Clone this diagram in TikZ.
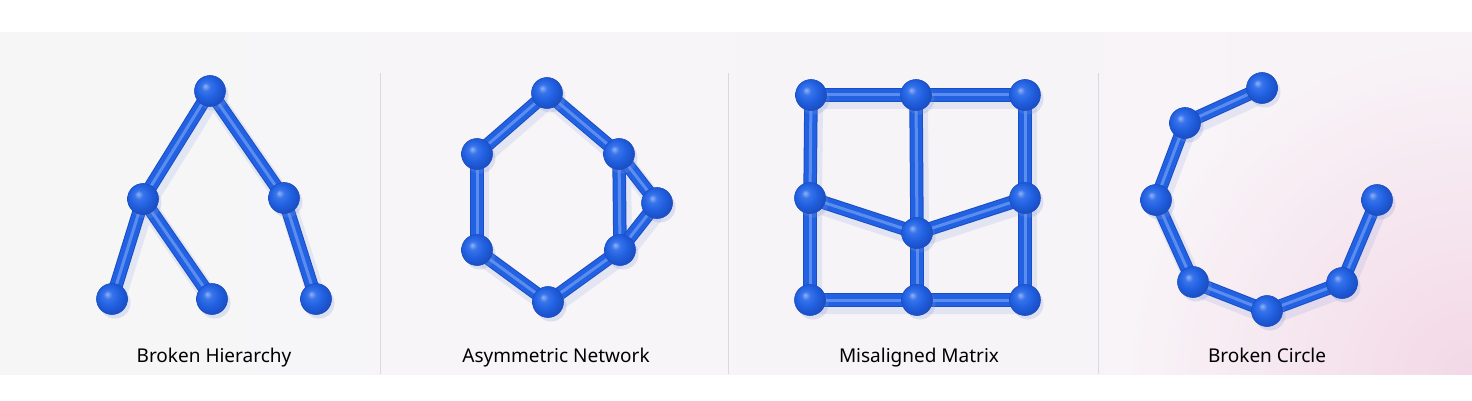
\documentclass[tikz,border=0pt]{standalone}
\usepackage{xcolor}
\usepackage{fontspec}
\setmainfont{Noto Sans}
\usepackage{tikz}
\usetikzlibrary{calc,shadows}
\definecolor{tubeblue}{HTML}{2262E2}
\definecolor{tubedark}{HTML}{1A4EC4}
\definecolor{tubelight}{HTML}{6E9CF3}
\definecolor{glossblue}{HTML}{8DB2F7}
\definecolor{midblue}{HTML}{3873EA}
\definecolor{shadeblue}{HTML}{7F95D8}
\definecolor{bgleft}{HTML}{F6F6F7}
\definecolor{bgright}{HTML}{F8F3F7}
\definecolor{glowpink}{HTML}{F3D8E6}
\definecolor{divgray}{HTML}{D9D9DE}
\pgfdeclareradialshading{glossy}{\pgfpoint{-8bp}{8bp}}{color(0bp)=(glossblue); color(7bp)=(midblue); color(16bp)=(tubeblue); color(28bp)=(tubedark); color(50bp)=(tubedark)}
\pgfdeclarelayer{back}
\pgfdeclarelayer{bars}
\pgfsetlayers{back,bars,main}
\tikzstyle{ball} = [circle, draw=tubedark, line width=0.6pt, shading=glossy, minimum size=31pt, inner sep=0pt, drop shadow={shadow xshift=3pt, shadow yshift=-4pt, opacity=0.22, fill=shadeblue}]
\tikzstyle{bar} = [tubeblue, line width=11.5pt, line cap=round, preaction={draw=tubedark, line width=13.5pt}, postaction={draw=tubelight, line width=3pt, opacity=0.75}]
\tikzstyle{barshade} = [shadeblue, line width=18pt, line cap=round, opacity=0.16]
\tikzstyle{caption} = [anchor=base, font=\fontsize{19}{22}\selectfont, text=black]
\tikzstyle{divider} = [divgray, line width=1pt]
\newcommand\edgelist{ha/hb,ha/hc,hb/hd,hb/he,hc/hf,
  na/nb,nb/nc,nc/nd,nd/ne,ne/nf,nf/na,nf/ng,ng/ne,
  m11/m12,m12/m13,m11/m21,m21/m31,m13/m23,m23/m33,m31/m32,m32/m33,m12/m22,m22/m32,m21/m22,m22/m23,
  c1/c2,c2/c3,c3/c4,c4/c5,c5/c6,c6/c7}

\begin{document}
\begin{tikzpicture}[x=1pt,y=-1pt]
\useasboundingbox (0,0) rectangle (1472,401);
\begin{pgfonlayer}{back}
\fill[left color=bgleft, right color=bgright] (0,33) rectangle (1472,374);
\begin{scope}
\clip (0,33) rectangle (1472,374);
\shade[inner color=glowpink, outer color=bgright] (1472,380) circle (340);
\end{scope}
\draw[divider] (380,73) -- (380,374);
\draw[divider] (728,73) -- (728,374);
\draw[divider] (1098,73) -- (1098,374);
\end{pgfonlayer}

\node [ball] (ha) at (210,91) {};
\node [ball] (hb) at (143,199) {};
\node [ball] (hc) at (284,198) {};
\node [ball] (hd) at (112,299) {};
\node [ball] (he) at (212,299) {};
\node [ball] (hf) at (316,299) {};

\node [ball] (na) at (547,93) {};
\node [ball] (nb) at (477,154) {};
\node [ball] (nc) at (477,250) {};
\node [ball] (nd) at (548,302) {};
\node [ball] (ne) at (620,250) {};
\node [ball] (nf) at (619,154) {};
\node [ball] (ng) at (657,203) {};

\node [ball] (m11) at (811,95) {};
\node [ball] (m12) at (916,95) {};
\node [ball] (m13) at (1025,95) {};
\node [ball] (m21) at (810,198) {};
\node [ball] (m22) at (917,233) {};
\node [ball] (m23) at (1025,198) {};
\node [ball] (m31) at (810,300) {};
\node [ball] (m32) at (917,300) {};
\node [ball] (m33) at (1025,300) {};

\node [ball] (c1) at (1262,88) {};
\node [ball] (c2) at (1185,123) {};
\node [ball] (c3) at (1156,200) {};
\node [ball] (c4) at (1193,282) {};
\node [ball] (c5) at (1267,311) {};
\node [ball] (c6) at (1342,283) {};
\node [ball] (c7) at (1377,200) {};

\begin{pgfonlayer}{bars}
\draw[barshade] \foreach \a/\b in \edgelist {($(\a)+(3,5)$) -- ($(\b)+(3,5)$)};
\foreach \a/\b in \edgelist
  \draw[bar] (\a.center) -- (\b.center);
\end{pgfonlayer}

\node [caption] (t1) at (214,362) {Broken Hierarchy};
\node [caption] (t2) at (556,362) {Asymmetric Network};
\node [caption] (t3) at (919,362) {Misaligned Matrix};
\node [caption] (t4) at (1267,362) {Broken Circle};
\end{tikzpicture}
\end{document}
